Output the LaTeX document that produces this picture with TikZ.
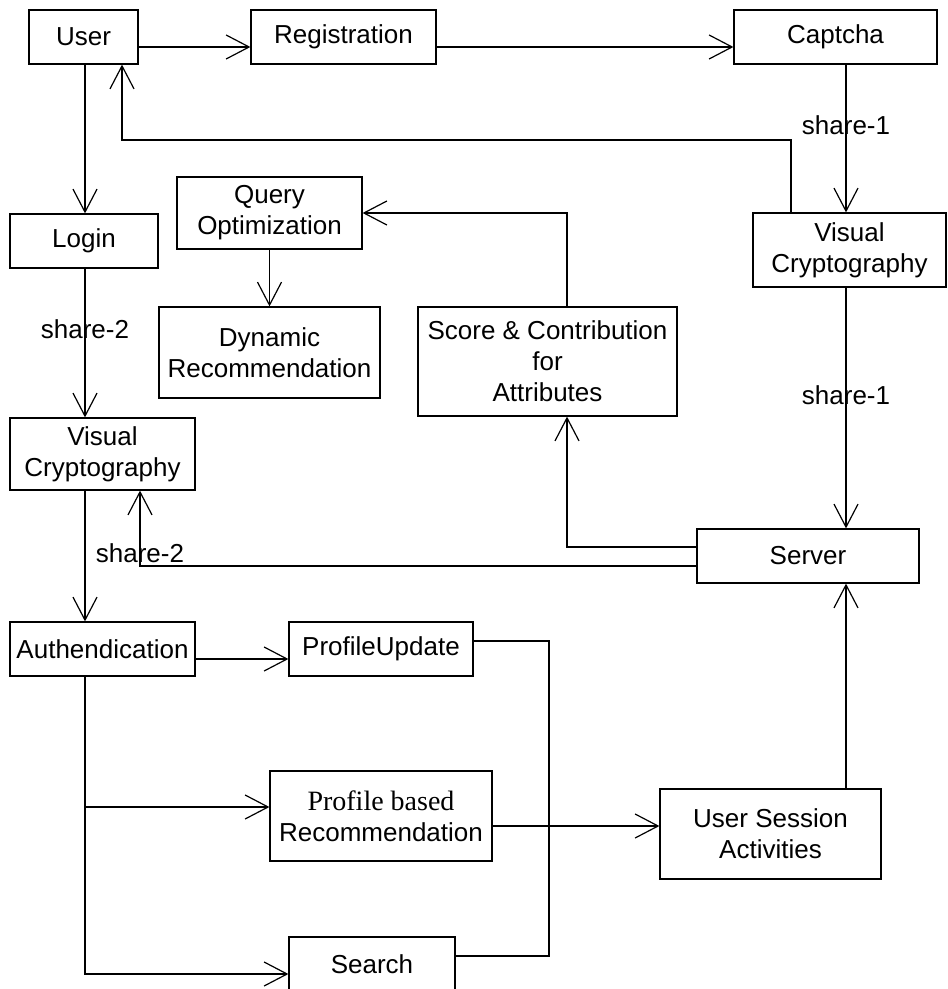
\documentclass[tikz,border=0pt]{standalone}
\usepackage{fontspec}
\setmainfont{Liberation Sans}
\newfontfamily\pbfont{Liberation Serif}
\usetikzlibrary{arrows.meta,positioning,calc}

\begin{document}
\begin{tikzpicture}[x=0.5pt, y=-0.5pt,
    box/.style={draw, line width=0.6pt, inner sep=0pt, align=center, font=\fontsize{13}{15.5}\selectfont},
    arr/.style={line width=0.6pt, -{Straight Barb[length=11.5pt,width=12pt]}},
    wire/.style={line width=0.6pt},
    tag/.style={font=\fontsize{13}{15.5}\selectfont}]
    \useasboundingbox (0,0) rectangle (947,989);

    % Top row
    \node[box, minimum width=54.5pt, minimum height=27pt] (user) at (83.5,37) {User};
    \node[box, minimum width=92.5pt, minimum height=27pt] (reg) at (343.5,37) {Registration};
    \node[box, minimum width=101.5pt, minimum height=27pt] (captcha) at (835.5,37) {Captcha};

    % Middle blocks
    \node[box, minimum width=74pt, minimum height=27pt] (login) at (84,241) {Login};
    \node[box, minimum width=92.5pt, minimum height=36pt] (query) at (269.5,213) {Query\\Optimization};
    \node[box, minimum width=110.5pt, minimum height=45.5pt] (dynrec) at (269.5,352.5) {Dynamic\\Recommendation};
    \node[box, minimum width=129.5pt, minimum height=54.5pt] (score) at (547.5,361.5) {Score \& Contribution\\for\\Attributes};
    \node[box, minimum width=96.5pt, minimum height=37pt] (vcone) at (849.5,250) {Visual\\Cryptography};
    \node[box, minimum width=92.5pt, minimum height=36pt] (vctwo) at (102.5,454) {Visual\\Cryptography};
    \node[box, minimum width=111pt, minimum height=27pt] (server) at (808,556) {Server};

    % Bottom blocks
    \node[box, minimum width=92.5pt, minimum height=27pt] (auth) at (102.5,649) {Authendication};
    \node[box, minimum width=92pt, minimum height=27pt] (profup) at (381,649) {ProfileUpdate};
    \node[box, minimum width=111pt, minimum height=45pt] (profrec) at (381,816) {{\pbfont\fontsize{14}{15.5}\selectfont Profile based}\\Recommendation};
    \node[box, minimum width=110.5pt, minimum height=45pt] (session) at (770.5,834) {User Session\\Activities};
    \node[box, minimum width=83pt, minimum height=27pt] (search) at (372,964) {Search};

    % Helper points
    \coordinate (spine) at (85,0);
    \coordinate (rail) at (846,0);
    \coordinate (back) at (122,140);
    \coordinate (merge) at (549,0);
    \coordinate (puout) at ([yshift=4pt]profup.east);
    \coordinate (srchin) at ([yshift=-5pt]search.west);
    \coordinate (srchout) at ([yshift=4pt]search.east);
    \coordinate (recin) at ([yshift=4.5pt]profrec.west);
    \coordinate (recout) at ([yshift=-5pt]profrec.east);

    % Connections
    \draw[arr] ([yshift=-5pt]user.east) -- ([yshift=-5pt]reg.west);
    \draw[arr] ([yshift=-5pt]reg.east) -- ([yshift=-5pt]captcha.west);
    \draw[arr] (captcha.south -| rail) -- node[tag, pos=0.41] {share-1} (vcone.north -| rail);
    \draw[arr] ([xshift=-29.25pt]vcone.north) |- (back) -- (back |- user.south);
    \draw[arr] (user.south -| spine) -- (login.north -| spine);
    \draw[arr] (login.south -| spine) -- node[tag, pos=0.41] {share-2} (vctwo.north -| spine);
    \draw[arr] (vctwo.south -| spine) -- (auth.north -| spine);
    \draw[arr] (query.south) -- (dynrec.north);
    \draw[arr] ([xshift=9.75pt]score.north) |- (query.east);
    \draw[arr] (vcone.south -| rail) -- node[tag, pos=0.446] {share-1} (server.north -| rail);
    \draw[arr] ([yshift=4.5pt]server.west) -| ([xshift=9.75pt]score.south);
    \draw[arr] ([yshift=-5pt]server.west) -| node[tag, pos=0.585] {share-2} ([xshift=18.75pt]vctwo.south);
    \draw[arr] ([yshift=-5pt]auth.east) -- ([yshift=-5pt]profup.west);
    \draw[arr] (auth.south -| spine) |- (srchin);
    \draw[arr] (recin -| spine) -- (recin);
    \draw[wire] (puout) -| (merge |- srchout) -- (srchout);
    \draw[arr] (recout) -- (recout -| session.west);
    \draw[arr] (session.north -| rail) -- (server.south -| rail);
\end{tikzpicture}
\end{document}
